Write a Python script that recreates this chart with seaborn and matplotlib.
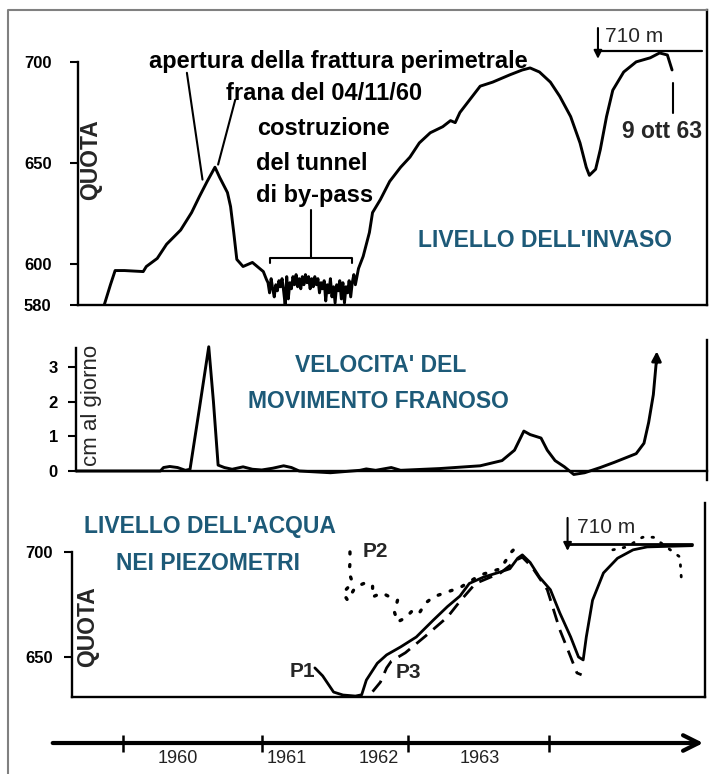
import matplotlib
matplotlib.use('Agg')
import matplotlib.pyplot as plt
import seaborn as sns
from matplotlib.lines import Line2D

sns.set_style('white')
plt.rcParams['font.family'] = ['Liberation Sans', 'DejaVu Sans']

TEAL = '#1d5a78'

# --- livello dell'invaso (anni decimali, quota m) ---
res_year = [1960.13, 1960.17, 1960.20, 1960.26, 1960.38, 1960.40, 1960.47, 1960.53,
            1960.62, 1960.69, 1960.74, 1960.79, 1960.84, 1960.87, 1960.92, 1960.94,
            1960.96, 1960.98, 1961.02, 1961.08, 1961.15, 1961.17,
            1961.18, 1961.19, 1961.20, 1961.21, 1961.22, 1961.23, 1961.24, 1961.25,
            1961.26, 1961.27, 1961.28, 1961.29, 1961.30, 1961.31, 1961.32, 1961.33,
            1961.34, 1961.35, 1961.36, 1961.37, 1961.38, 1961.39, 1961.40, 1961.41,
            1961.42, 1961.43, 1961.44, 1961.45, 1961.46, 1961.47, 1961.48, 1961.49,
            1961.50, 1961.51, 1961.52, 1961.53, 1961.54, 1961.55, 1961.56, 1961.57,
            1961.58, 1961.59, 1961.60, 1961.61, 1961.62, 1961.63, 1961.64, 1961.65,
            1961.66, 1961.67, 1961.68, 1961.69, 1961.70, 1961.71, 1961.72, 1961.73,
            1961.74, 1961.76, 1961.79, 1961.83, 1961.85, 1961.90, 1961.96, 1962.03,
            1962.09, 1962.15, 1962.22, 1962.30, 1962.35, 1962.38, 1962.41, 1962.47,
            1962.54, 1962.62, 1962.73, 1962.81, 1962.86, 1962.92, 1962.99, 1963.05,
            1963.12, 1963.18, 1963.22, 1963.24, 1963.28, 1963.31, 1963.35, 1963.39,
            1963.46, 1963.54, 1963.63, 1963.69, 1963.74, 1963.77]
res_quota = [580, 590, 597, 597, 596.5, 599, 603, 610,
             617, 625.6, 633.5, 641, 648, 643, 635.5, 628.6,
             616, 602.5, 599, 601, 596.5, 592.6,
             591, 586, 593, 588, 584, 590, 587, 592,
             589, 593, 587, 580, 594, 583, 591, 588,
             594, 590, 595, 589, 593, 588, 594, 590,
             595, 591, 594, 588, 593, 589, 594, 590,
             593, 586, 591, 588, 592, 582, 590, 586,
             593, 584, 589, 581, 590, 587, 592, 583,
             591, 581, 589, 586, 592, 584, 591, 595,
             590, 598, 604, 615.8, 625.6, 632, 641, 648,
             653, 660, 665, 668, 671, 670, 675, 681,
             688, 690, 693.6, 696, 697, 695, 690, 683,
             673, 660, 648, 644, 647, 656.7, 673, 686,
             695, 700, 702, 704.4, 703.4, 696]

# --- velocita' del movimento franoso (cm al giorno) ---
vel_year = [1959.95, 1960.49, 1960.51, 1960.55, 1960.60, 1960.65, 1960.68, 1960.74,
            1960.80, 1960.83, 1960.86, 1960.90, 1960.95, 1961.02, 1961.08, 1961.14,
            1961.21, 1961.28, 1961.33, 1961.38, 1961.58, 1961.77, 1961.81, 1961.87,
            1961.97, 1962.03, 1962.28, 1962.54, 1962.68, 1962.76, 1962.82, 1962.86,
            1962.93, 1962.97, 1963.02, 1963.08, 1963.14, 1963.21, 1963.31, 1963.40,
            1963.54, 1963.59, 1963.62, 1963.65, 1963.67]
vel_cm = [0, 0, 0.1, 0.13, 0.1, 0.02, 0.05, 1.8,
          3.58, 2.0, 0.17, 0.1, 0.05, 0.12, 0.05, 0.03,
          0.08, 0.15, 0.1, 0.0, -0.05, 0.02, 0.06, 0.02,
          0.1, 0.02, 0.07, 0.15, 0.3, 0.6, 1.15, 1.05,
          0.95, 0.6, 0.3, 0.12, -0.1, -0.05, 0.1, 0.25,
          0.5, 0.8, 1.4, 2.2, 3.2]

# --- livello dell'acqua nei piezometri ---
p1_year = [1961.48, 1961.53, 1961.60, 1961.66, 1961.74, 1961.78, 1961.81, 1961.88,
           1961.94, 1962.03, 1962.13, 1962.24, 1962.33, 1962.41, 1962.47, 1962.56,
           1962.67, 1962.73, 1962.78, 1962.81, 1962.86, 1962.92, 1962.99, 1963.05,
           1963.12, 1963.17, 1963.20, 1963.22, 1963.26, 1963.33, 1963.42, 1963.52,
           1963.61, 1963.90]
p1_quota = [644.8, 641, 633.3, 631.9, 631.4, 632, 639, 647,
            651, 654.8, 659.5, 667.6, 674, 679, 685, 688,
            690.5, 692, 697, 698.6, 695, 688, 682, 671,
            659.5, 650, 648.6, 659.5, 677, 690, 697, 701,
            702.4, 703]

p3_year = [1961.85, 1961.90, 1961.94, 1961.97, 1962.06, 1962.19, 1962.33, 1962.41,
           1962.51, 1962.67, 1962.78, 1962.81, 1962.87, 1962.97, 1963.05, 1963.12,
           1963.16, 1963.19]
p3_quota = [633.5, 638, 644.8, 648, 652, 660, 669, 676.5,
            685, 690, 696.5, 697.5, 693, 682, 663, 650,
            642.4, 641.5]

p2_year = [1961.705, 1961.705, 1961.70, 1961.72, 1961.69, 1961.66, 1961.69, 1961.74,
           1961.80, 1961.85, 1961.85, 1961.91, 1961.96, 1962.01, 1961.99, 1962.01,
           1962.06, 1962.11, 1962.15, 1962.19, 1962.24, 1962.33, 1962.41, 1962.54,
           1962.67, 1962.74, 1962.78]
p2_quota = [700, 694.8, 690, 685.7, 682.9, 680.5, 677, 683.3,
            685.2, 684.3, 678.6, 680.5, 678.6, 677, 671.4, 666.7,
            668.6, 672.4, 671, 675.7, 678.6, 681, 683, 689,
            692, 700, 703]
p2b_year = [1963.39, 1963.48, 1963.58, 1963.65, 1963.82, 1963.83]
p2b_quota = [701, 702.4, 707, 707, 697.6, 686.7]

# --- asse dei tempi ---
time_ticks = [1960.25, 1961.14, 1962.08, 1962.98]
time_label_pos = [1960.60, 1961.30, 1961.89, 1962.54]
time_labels = ['1960', '1961', '1962', '1963']

W, H = 719, 774
fig = plt.figure(figsize=(W / 100, H / 100), dpi=100)


def px_axes(left, top, right, bottom):
    return fig.add_axes([left / W, 1 - bottom / H, (right - left) / W, (bottom - top) / H])


def style_axes(ax, pad):
    ax.set_xticks([])
    ax.set_xlabel('')
    ax.set_ylabel('')
    ax.spines['top'].set_visible(False)
    for s in ['left', 'right', 'bottom']:
        ax.spines[s].set_color('black')
        ax.spines[s].set_linewidth(1.7)
    ax.tick_params(axis='y', left=True, length=6, width=1.5, pad=pad,
                   labelsize=12, direction='out', colors='black')
    for lab in ax.get_yticklabels():
        lab.set_fontweight('bold')
    ax.patch.set_alpha(0)


line_kw = dict(color='black', sort=False, estimator=None, legend=False)
txt_kw = dict(fontsize=17, fontweight='bold', color='black')
teal_kw = dict(fontsize=16.5, fontweight='bold', color=TEAL, ha='center', va='baseline')

# ---------------- pannello 1 ----------------
ax1 = px_axes(78, 10, 707, 305)
sns.lineplot(x=res_year, y=res_quota, ax=ax1, lw=2.1, **line_kw)
ax1.set_xlim(1959.962, 1963.994)
ax1.set_ylim(580, 725.6)
ax1.set_yticks([580, 600, 650, 700])
ax1.spines['left'].set_bounds(580, 700)
style_axes(ax1, 13)

ax1.text(1960.04, 651.7, 'QUOTA', rotation=90, ha='center', va='center',
         fontsize=16.5, fontweight='bold')
ax1.text(1961.63, 697, 'apertura della frattura perimetrale', ha='center', va='baseline', **txt_kw)
ax1.text(1961.54, 681.3, 'frana del 04/11/60', ha='center', va='baseline', **txt_kw)
ax1.text(1961.11, 664, 'costruzione', ha='left', va='baseline', **txt_kw)
ax1.text(1961.10, 646.8, 'del tunnel', ha='left', va='baseline', **txt_kw)
ax1.text(1961.10, 631, 'di by-pass', ha='left', va='baseline', **txt_kw)
ax1.text(1963.705, 662.6, '9 ott 63', ha='center', va='baseline', fontsize=16.5,
         fontweight='bold')
ax1.text(1963.34, 709.9, '710 m', ha='left', va='baseline', fontsize=15)
ax1.text(1962.955, 608.4, "LIVELLO DELL'INVASO", **teal_kw)

ax1.plot([1960.66, 1960.76], [694.6, 641.9], color='black', lw=1.5)
ax1.plot([1960.97, 1960.86], [681.3, 649.3], color='black', lw=1.5)
ax1.plot([1961.19, 1961.19, 1961.72, 1961.72], [600.5, 603.4, 603.4, 600.5], color='black', lw=1.5)
ax1.plot([1961.455, 1961.455], [603.4, 627.1], color='black', lw=1.5)
ax1.plot([1963.776, 1963.776], [689.7, 674.9], color='black', lw=1.5)
ax1.plot([1963.295, 1963.96], [705.4, 705.4], color='black', lw=1.6)
ax1.annotate('', xy=(1963.295, 701.5), xytext=(1963.295, 716.7),
             arrowprops=dict(arrowstyle='-|>', color='black', lw=1.5,
                             mutation_scale=12, shrinkA=0, shrinkB=0))

# ---------------- pannello 2 ----------------
ax2 = px_axes(76, 340, 707, 482)
sns.lineplot(x=vel_year, y=vel_cm, ax=ax2, lw=2.1, **line_kw)
ax2.set_xlim(1959.949, 1963.994)
ax2.set_ylim(-0.317, 3.775)
ax2.set_yticks([0, 1, 2, 3])
ax2.spines['bottom'].set_position(('data', 0))
ax2.spines['left'].set_bounds(0, 3.55)
ax2.spines['right'].set_bounds(-0.26, 3.775)
style_axes(ax2, 7)
ax2.annotate('', xy=(1963.672, 3.45), xytext=(1963.67, 3.1),
             arrowprops=dict(arrowstyle='-|>', color='black', lw=2.0,
                             mutation_scale=14, shrinkA=0, shrinkB=0))
ax2.text(1960.05, 1.9, 'cm al giorno', rotation=90, ha='center', va='center', fontsize=16)
ax2.text(1961.90, 2.85, "VELOCITA' DEL", **teal_kw)
ax2.text(1961.885, 1.82, 'MOVIMENTO FRANOSO', **teal_kw)

# ---------------- pannello 3 ----------------
ax3 = px_axes(72, 503, 705, 697)
sns.lineplot(x=p1_year, y=p1_quota, ax=ax3, lw=2.0, **line_kw)
sns.lineplot(x=p3_year, y=p3_quota, ax=ax3, lw=2.0, linestyle=(0, (5, 3)), **line_kw)
sns.lineplot(x=p2_year, y=p2_quota, ax=ax3, lw=2.4, linestyle=(0, (0.6, 3.2)),
             dash_capstyle='round', **line_kw)
sns.lineplot(x=p2b_year, y=p2b_quota, ax=ax3, lw=2.0, linestyle=(0, (0.6, 3.2)),
             dash_capstyle='round', **line_kw)
ax3.set_xlim(1959.923, 1963.981)
ax3.set_ylim(630.95, 723.3)
ax3.set_yticks([650, 700])
ax3.spines['left'].set_bounds(630.95, 700)
style_axes(ax3, 8)

ax3.text(1960.02, 664.3, 'QUOTA', rotation=90, ha='center', va='center',
         fontsize=16.5, fontweight='bold')
ax3.text(1960.81, 709, "LIVELLO DELL'ACQUA", **teal_kw)
ax3.text(1960.795, 691.4, 'NEI PIEZOMETRI', **teal_kw)
ax3.text(1961.40, 640.5, 'P1', ha='center', va='baseline', fontsize=15, fontweight='bold')
ax3.text(1961.865, 697.6, 'P2', ha='center', va='baseline', fontsize=15, fontweight='bold')
ax3.text(1962.08, 640, 'P3', ha='center', va='baseline', fontsize=15, fontweight='bold')
ax3.text(1963.16, 709, '710 m', ha='left', va='baseline', fontsize=15)
ax3.plot([1963.10, 1963.90], [703.8, 703.8], color='black', lw=2.0)
ax3.annotate('', xy=(1963.10, 700.5), xytext=(1963.10, 716.2),
             arrowprops=dict(arrowstyle='-|>', color='black', lw=1.5,
                             mutation_scale=12, shrinkA=0, shrinkB=0))

# ---------------- asse dei tempi ----------------
ax4 = px_axes(0, 725, 719, 774)
ax4.set_xlim(1959.462, 1964.071)
ax4.set_ylim(-1, 1)
ax4.axis('off')
ax4.annotate('', xy=(1963.97, 0.265), xytext=(1959.80, 0.265),
             arrowprops=dict(arrowstyle='->', color='black', lw=3,
                             mutation_scale=28, shrinkA=0, shrinkB=0))
ax4.vlines(time_ticks, -0.10, 0.60, color='black', lw=1.8)
for xp, lab in zip(time_label_pos, time_labels):
    ax4.text(xp, -0.35, lab, ha='center', va='center', fontsize=13, color='#222222')

# cornice grigia esterna
fig.add_artist(Line2D([8 / W, 8 / W, 707 / W], [0, 1 - 10 / H, 1 - 10 / H],
                      transform=fig.transFigure, color='#808080', lw=1.5))

fig.savefig('out.png', dpi=100)
